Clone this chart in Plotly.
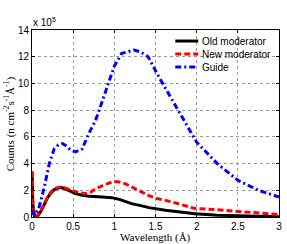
import plotly.graph_objects as go

# Data (counts in units of 1e5 n cm^-2 s^-1 Å^-1)
old_x = [0, 0.01, 0.03, 0.07, 0.11, 0.15, 0.19, 0.23, 0.27, 0.31, 0.35, 0.39, 0.43, 0.48, 0.53,
         0.61, 0.7, 0.81, 0.9, 0.97, 1.07, 1.21, 1.32, 1.42, 1.62, 1.8, 1.98, 2.25, 2.5, 2.75, 3.0]
old_y = [3.4, 1.0, 0.05, 0.08, 0.45, 0.95, 1.45, 1.8, 2.05, 2.15, 2.2, 2.15, 2.05, 1.9, 1.75,
         1.63, 1.55, 1.52, 1.5, 1.45, 1.3, 1.0, 0.85, 0.7, 0.5, 0.35, 0.25, 0.14, 0.08, 0.05, 0.02]

new_x = [0, 0.01, 0.03, 0.07, 0.11, 0.15, 0.19, 0.23, 0.27, 0.31, 0.35, 0.39, 0.43, 0.48, 0.53,
         0.59, 0.65, 0.71, 0.77, 0.84, 0.91, 0.97, 1.05, 1.13, 1.21, 1.33, 1.42, 1.52, 1.7, 1.98,
         2.25, 2.5, 2.75, 3.0]
new_y = [3.4, 1.0, 0.05, 0.1, 0.5, 1.0, 1.5, 1.85, 2.1, 2.2, 2.25, 2.2, 2.1, 2.0, 1.9,
         1.8, 1.75, 1.85, 2.1, 2.3, 2.5, 2.63, 2.63, 2.5, 2.25, 1.88, 1.6, 1.38, 1.13, 0.63,
         0.55, 0.42, 0.28, 0.18]

guide_x = [0, 0.03, 0.08, 0.15, 0.21, 0.27, 0.32, 0.37, 0.42, 0.47, 0.53, 0.61, 0.69, 0.77,
           0.85, 0.93, 1.0, 1.09, 1.17, 1.24, 1.32, 1.41, 1.54, 1.66, 1.82, 2.0, 2.25, 2.5,
           2.75, 3.0]
guide_y = [0.5, 0.13, 0.6, 2.25, 4.0, 5.1, 5.4, 5.5, 5.3, 5.0, 4.88, 5.1, 6.25, 7.2,
           8.6, 10.0, 11.3, 12.25, 12.4, 12.5, 12.35, 12.0, 10.5, 9.25, 7.5, 5.6, 4.0, 2.75,
           2.0, 1.5]

series_names = ["Old moderator", "New moderator", "Guide"]
series_colors = ["black", "red", "blue"]
series_dash = ["solid", "6px,3px", "6px,3px,2px,3px"]

x_ticks = [0, 0.5, 1, 1.5, 2, 2.5, 3]
y_ticks = [0, 2, 4, 6, 8, 10, 12, 14]

fig = go.Figure()
for xs, ys, name, col, dash in zip([old_x, new_x, guide_x], [old_y, new_y, guide_y],
                                   series_names, series_colors, series_dash):
    fig.add_trace(go.Scatter(x=xs, y=ys, mode="lines", name=name, showlegend=False,
                             hoverinfo="skip",
                             line=dict(color=col, width=3, dash=dash)))

sans = "Liberation Sans, Arial, Helvetica"
serif = "Liberation Serif, Times New Roman"

axis_common = dict(showline=True, linecolor="black", linewidth=1, mirror="ticks",
                   ticks="inside", ticklen=3, tickcolor="black",
                   showgrid=True, gridcolor="#999999", griddash="dot", gridwidth=1,
                   zeroline=False,
                   tickfont=dict(family=sans, size=10, color="black"))

fig.update_xaxes(range=[0, 3], tickvals=x_ticks, ticktext=[str(t) for t in x_ticks], **axis_common)
fig.update_yaxes(range=[0, 14], tickvals=y_ticks, ticktext=[str(t) for t in y_ticks], **axis_common)

# Axis titles
fig.add_annotation(text="Wavelength (Å)", xref="paper", yref="paper", x=0.5, y=-0.109,
                   xanchor="center", yanchor="middle", showarrow=False,
                   font=dict(family=serif, size=11, color="black"))
fig.add_annotation(text="Counts (n cm<sup>-2</sup>s<sup>-1</sup>Å<sup>-1</sup>)", xref="paper", yref="paper",
                   x=-0.09, y=0.5, xanchor="center", yanchor="middle", textangle=-90, showarrow=False,
                   font=dict(family=serif, size=11, color="black"))
fig.add_annotation(text="x 10<sup>5</sup>", xref="paper", yref="paper", x=-0.003, y=1.0,
                   xanchor="left", yanchor="bottom", showarrow=False,
                   font=dict(family=sans, size=10, color="black"))

# Legend (manual, MATLAB style)
leg_y = [0.941, 0.871, 0.802]
for name, col, dash, ly in zip(series_names, series_colors, series_dash, leg_y):
    fig.add_shape(type="line", xref="paper", yref="paper", x0=0.58, x1=0.673, y0=ly, y1=ly,
                  line=dict(color=col, width=3, dash=dash))
    fig.add_annotation(text=name, xref="paper", yref="paper", x=0.68, y=ly,
                       xanchor="left", yanchor="middle", showarrow=False,
                       font=dict(family=sans, size=10, color="black"))

fig.update_layout(
    width=287, height=244,
    margin=dict(l=32, r=5, t=30, b=27),
    paper_bgcolor="white", plot_bgcolor="white",
    showlegend=False,
)

fig.write_html("out.html", config={"displayModeBar": False},
               post_script="document.body.style.margin='0';document.body.style.overflow='hidden';")
